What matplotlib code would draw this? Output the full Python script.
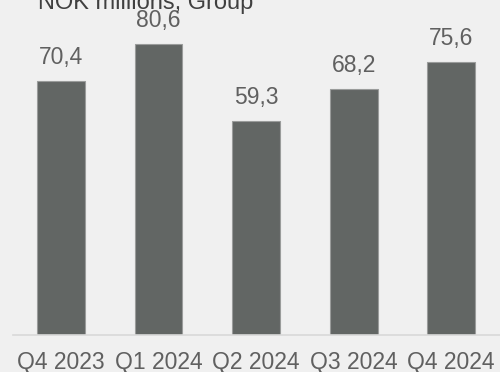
import matplotlib
matplotlib.use("Agg")
import matplotlib.pyplot as plt

# data
quarters = ["Q4 2023", "Q1 2024", "Q2 2024", "Q3 2024", "Q4 2024"]
values   = [70.4, 80.6, 59.3, 68.2, 75.6]
unit     = "NOK millions, Group"

bg       = "#f0f0f0"
bar_col  = "#626664"
edge_col = "#9a9c9b"
txt_col  = "#606060"

plt.rcParams["font.family"] = ["Liberation Sans", "DejaVu Sans"]

fig = plt.figure(figsize=(5.0, 3.72), dpi=100, facecolor=bg)
ax = fig.add_axes([13 / 500, 37 / 372, 487 / 500, 335 / 372], facecolor=bg)

x = range(len(quarters))
ax.bar(x, values, width=0.49, color=bar_col, edgecolor=edge_col, linewidth=0.8)

for xi, v in zip(x, values):
    ax.annotate(f"{v:.1f}".replace(".", ","), (xi, v), xytext=(0, 9),
                textcoords="offset points", ha="center", va="bottom",
                fontsize=16.5, color=txt_col)

ax.set_xlim(-0.49, 4.5)
ax.set_ylim(0, 92.9)
ax.set_xticks(list(x))
ax.set_xticklabels(quarters, fontsize=16.5, color=txt_col)
ax.tick_params(axis="x", length=0, pad=11.5)
ax.set_yticks([])
for s in ["top", "right", "left"]:
    ax.spines[s].set_visible(False)
ax.spines["bottom"].set_color("#d9d9d9")
ax.spines["bottom"].set_linewidth(1.2)

fig.text(38 / 500, 1 - 9 / 372, unit, ha="left", va="baseline",
         fontsize=17, color="#404040")

fig.savefig("out.png", dpi=100, facecolor=bg)
